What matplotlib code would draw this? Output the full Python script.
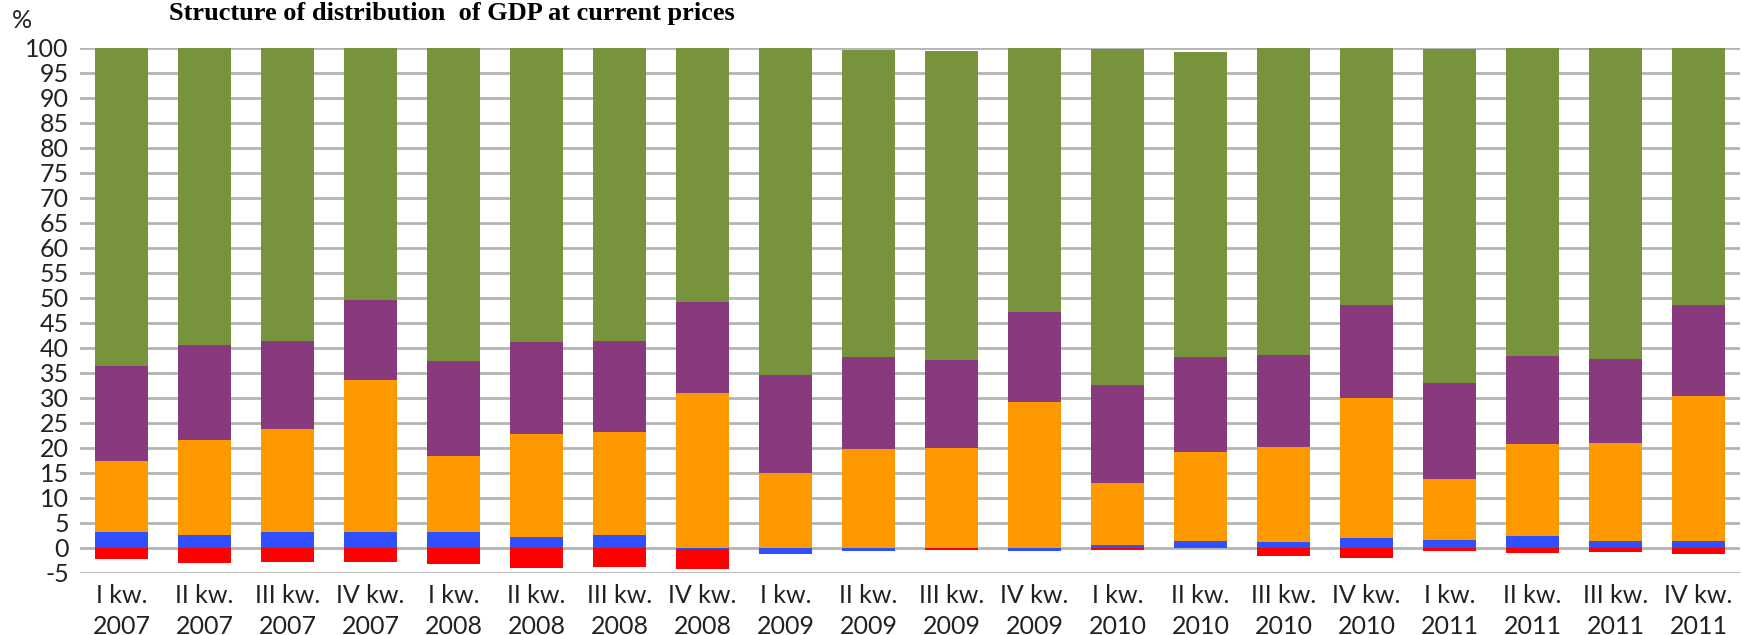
import matplotlib
matplotlib.use("Agg")
import matplotlib.pyplot as plt
import numpy as np

# quarters shown on the x axis
quarters = ["I kw.\n2007", "II kw.\n2007", "III kw.\n2007", "IV kw.\n2007",
            "I kw.\n2008", "II kw.\n2008", "III kw.\n2008", "IV kw.\n2008",
            "I kw.\n2009", "II kw.\n2009", "III kw.\n2009", "IV kw.\n2009",
            "I kw.\n2010", "II kw.\n2010", "III kw.\n2010", "IV kw.\n2010",
            "I kw.\n2011", "II kw.\n2011", "III kw.\n2011", "IV kw.\n2011"]

# segment heights (percent of GDP)
blue = [3.05, 2.6, 3.05, 3.05, 3.05, 2.1, 2.6, -0.3, -1.3, -0.6,
        0.0, -0.6, 0.6, 1.3, 1.05, 1.85, 1.6, 2.4, 1.3, 1.3]
orange = [14.3, 18.9, 20.6, 30.5, 15.2, 20.6, 20.6, 30.9, 15.0, 19.7,
          19.9, 29.1, 12.4, 17.9, 19.0, 28.0, 12.1, 18.3, 19.7, 29.1]
purple = [19.0, 19.0, 17.6, 15.9, 19.1, 18.4, 18.1, 18.3, 19.6, 18.4,
          17.7, 18.0, 19.6, 18.9, 18.4, 18.7, 19.2, 17.6, 16.8, 18.1]
green = [63.7, 59.5, 58.7, 50.5, 62.7, 58.9, 58.7, 50.8, 65.4, 61.5,
         61.8, 52.9, 67.1, 61.1, 61.5, 51.5, 66.8, 61.7, 62.2, 51.5]
red = [-2.3, -3.1, -2.9, -2.9, -3.3, -4.1, -3.9, -4.0, 0.0, 0.0,
       -0.4, 0.0, -0.4, 0.0, -1.6, -2.1, -0.6, -1.1, -0.9, -1.3]

C_GREEN = "#77933C"
C_PURPLE = "#893A7F"
C_ORANGE = "#FF9900"
C_BLUE = "#3050FF"
C_RED = "#FF0000"

plt.rcParams['font.family'] = ['Lato', 'DejaVu Sans']
plt.rcParams['axes.unicode_minus'] = False

fig = plt.figure(figsize=(17.42, 6.35), dpi=100)
ax = fig.add_axes([80 / 1742, 62.3 / 635, 1660 / 1742, 525 / 635])

x = np.arange(len(quarters))
w = 0.65
b = np.array(blue)
pos_blue = np.clip(b, 0, None)
neg_blue = np.clip(b, None, 0)

ax.bar(x, pos_blue, w, color=C_BLUE, zorder=3)
ax.bar(x, neg_blue, w, color=C_BLUE, zorder=3)
ax.bar(x, red, w, bottom=neg_blue, color=C_RED, zorder=3)
bottom = pos_blue.copy()
ax.bar(x, orange, w, bottom=bottom, color=C_ORANGE, zorder=3)
bottom += np.array(orange)
ax.bar(x, purple, w, bottom=bottom, color=C_PURPLE, zorder=3)
bottom += np.array(purple)
ax.bar(x, green, w, bottom=bottom, color=C_GREEN, zorder=3)

ax.set_xlim(-0.5, len(quarters) - 0.5)
ax.set_ylim(-5, 100)
ax.set_yticks(range(-5, 101, 5))
ax.yaxis.grid(True, color="#b4b4b4", linewidth=2, zorder=0)
ax.set_axisbelow(True)
for s in ax.spines.values():
    s.set_visible(False)
ax.tick_params(axis="both", length=0, labelsize=18, colors="#222222")
ax.tick_params(axis="y", pad=8)
ax.tick_params(axis="x", pad=8)
ax.set_xticks(x)
ax.set_xticklabels(quarters, linespacing=1.45)

fig.text(12 / 1742, 1 - 20 / 635, "%", fontsize=18, color="#222222", va="center")
fig.text(169 / 1742, 1 - 20 / 635, "Structure of distribution  of GDP at current prices",
         fontsize=19, fontweight="bold", family="Liberation Serif", va="baseline")

fig.savefig("out.png", dpi=100)
